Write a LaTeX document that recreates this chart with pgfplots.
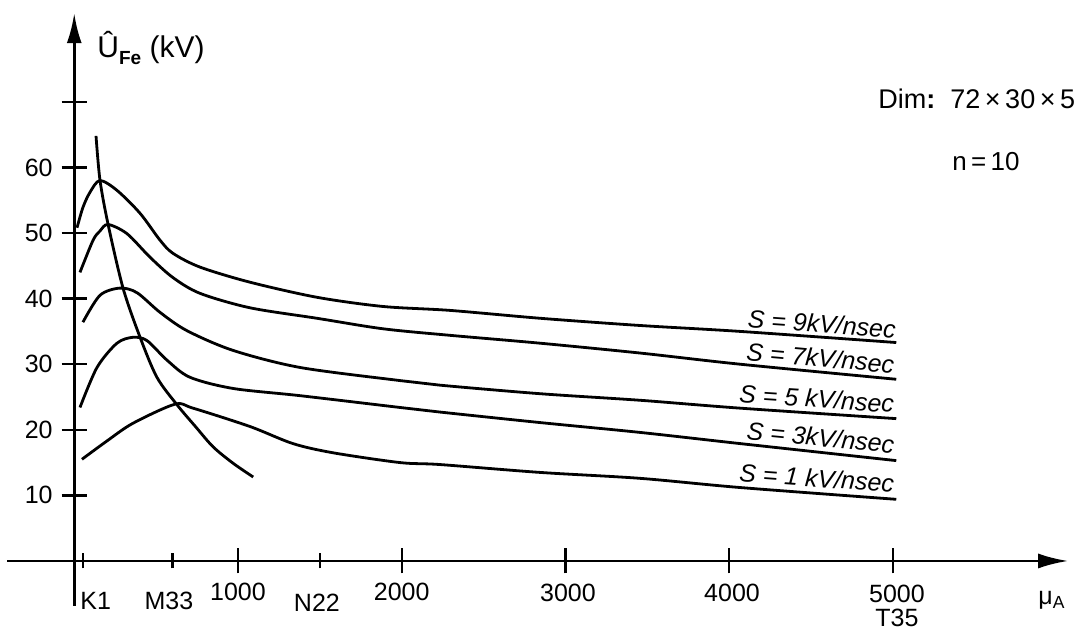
\documentclass[border=0pt]{standalone}
\usepackage{fontspec}
\setmainfont{Liberation Sans}
\usepackage{pgfplots}
\pgfplotsset{compat=1.18}
\usetikzlibrary{arrows.meta}
\begin{document}
\begin{tikzpicture}
\begin{axis}[
  x=0.081875pt, y=3.28pt,
  xmin=-410, xmax=6070, ymin=-6.8, ymax=83.5,
  axis lines=middle, enlargelimits=false, clip=false,
  axis line style={line width=1.4pt, -{Latex[length=15pt,width=7.5pt]}},
  xtick={1000,2000,3000,4000,5000}, ytick={10,20,30,40,50,60,70},
  xticklabels={}, yticklabels={},
  extra x ticks={55,600,1500}, extra x tick labels={},
  extra x tick style={major tick length=7.5pt},
  tick align=center, major tick length=12.5pt,
  tick style={line width=1.2pt, black},
  cycle list={{black,solid}},
  every axis plot/.append style={line width=1.4pt, black, solid, smooth, tension=0.5, no marks},
]
% S = 9 kV/nsec
\addplot coordinates {(17,50.8) (53,53.9) (96,56.2) (157,58.0) (261,56.5) (402,53.0) (524,48.9) (603,46.9) (768,44.8) (1073,42.5) (1482,40.2) (1885,38.8) (2295,38.2) (2845,37.0) (3455,35.9) (4065,35.0) (5020,33.3)};
% S = 7 kV/nsec
\addplot coordinates {(35,44.0) (115,48.9) (157,50.3) (206,51.3) (322,49.9) (463,46.3) (603,43.2) (768,40.8) (1073,38.6) (1482,37.0) (1885,35.4) (2295,34.4) (2845,33.2) (3455,31.7) (4065,30.0) (5020,27.7)};
% S = 5 kV/nsec
\addplot coordinates {(53,36.4) (157,40.5) (279,41.6) (383,40.9) (524,37.9) (689,35.1) (970,32.1) (1379,29.5) (1990,27.5) (2234,26.8) (2845,25.5) (3455,24.5) (4065,23.3) (5020,21.7)};
% S = 3 kV/nsec
\addplot coordinates {(35,23.4) (139,29.5) (261,33.2) (359,34.1) (444,33.6) (567,30.6) (707,28.0) (970,26.3) (1379,25.2) (1990,23.4) (2234,22.7) (2845,21.1) (3455,19.6) (4065,17.9) (5020,15.3)};
% S = 1 kV/nsec
\addplot coordinates {(47,15.5) (200,18.3) (359,21.0) (615,23.9) (725,23.3) (1073,20.5) (1335,17.9) (1579,16.5) (1990,15.0) (2234,14.7) (2845,13.5) (3455,12.6) (4065,11.2) (5020,9.4)};
% ridge through the maxima
\addplot coordinates {(133,64.8) (157,58.1) (206,51.4) (298,41.6) (402,34.1) (505,28.0) (628,23.8) (740,20.5) (848,17.4) (970,14.9) (1093,12.8)};

% curve labels
\begin{scope}[every node/.style={anchor=base east, inner sep=0pt, font=\fontsize{12.5}{14}\selectfont\itshape}]
\node[rotate=-4.0] at (axis cs:5015,34.0) {S = 9kV/nsec};
\node[rotate=-5.0] at (axis cs:5005,28.6) {S = 7kV/nsec};
\node[rotate=-3.7] at (axis cs:5005,22.6) {S = 5 kV/nsec};
\node[rotate=-5.5] at (axis cs:5005,16.4) {S = 3kV/nsec};
\node[rotate=-4.2] at (axis cs:5005,10.4) {S = 1 kV/nsec};
\end{scope}

% y tick labels
\begin{scope}[every node/.style={anchor=east, inner sep=0pt, font=\fontsize{12.5}{14}\selectfont}]
\node at (axis cs:-130,10) {10};
\node at (axis cs:-130,20) {20};
\node at (axis cs:-130,30) {30};
\node at (axis cs:-130,40) {40};
\node at (axis cs:-130,50) {50};
\node at (axis cs:-130,60) {60};
\end{scope}

% x tick labels
\begin{scope}[every node/.style={anchor=base, inner sep=0pt, font=\fontsize{12.5}{14}\selectfont}]
\node[anchor=base west] at (axis cs:35,-7.47) {K1};
\node at (axis cs:578,-7.47) {M33};
\node at (axis cs:1000,-5.95) {1000};
\node at (axis cs:1482,-7.77) {N22};
\node at (axis cs:2000,-6.1) {2000};
\node at (axis cs:3015,-6.25) {3000};
\node at (axis cs:4017,-6.25) {4000};
\node at (axis cs:5024,-6.4) {5000};
\node at (axis cs:5024,-9.95) {T35};
\node[anchor=base west] at (axis cs:5886,-6.7) {μ\textsubscript{A}};
\end{scope}

% axis label and notes
\node[anchor=base west, inner sep=0pt, font=\fontsize{15}{17}\selectfont] at (axis cs:139,76.7) {Û\raisebox{-0.45ex}{\fontsize{9.5}{10}\selectfont\bfseries Fe}\ (kV)};
\node[anchor=base west, inner sep=0pt, font=\fontsize{13.5}{16}\selectfont] at (axis cs:4909,69.05) {Dim\textbf{:}\ \ 72\,×\,30\,×\,5};
\node[anchor=base west, inner sep=0pt, font=\fontsize{13}{16}\selectfont] at (axis cs:5360,59.6) {n\,=\,10};

% picture frame (invisible)
\path (axis cs:-453.4,-10.37) rectangle (axis cs:6123.8,85.52);
\end{axis}
\end{tikzpicture}
\end{document}
